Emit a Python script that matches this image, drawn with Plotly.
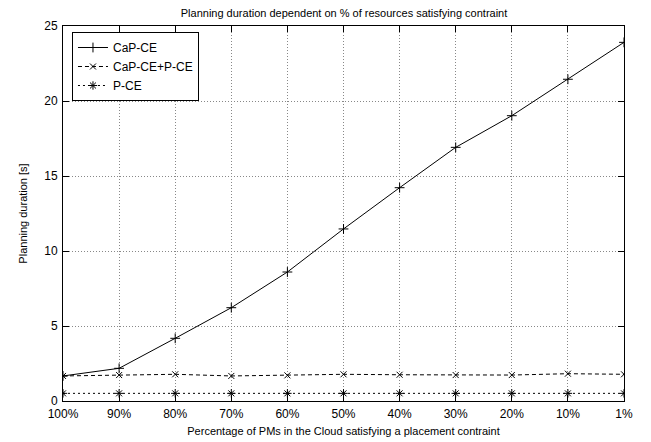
import plotly.graph_objects as go

categories = ["100%", "90%", "80%", "70%", "60%", "50%", "40%", "30%", "20%", "10%", "1%"]
cap_ce = [1.67, 2.18, 4.18, 6.22, 8.6, 11.47, 14.22, 16.91, 19.02, 21.45, 23.91]
cap_ce_p_ce = [1.67, 1.73, 1.78, 1.67, 1.71, 1.78, 1.75, 1.73, 1.73, 1.82, 1.78]
p_ce = [0.51, 0.51, 0.51, 0.51, 0.51, 0.51, 0.51, 0.51, 0.51, 0.51, 0.51]

FONT = "Liberation Sans, Arial, sans-serif"

fig = go.Figure()
fig.add_trace(go.Scatter(
    x=categories, y=cap_ce, name="CaP-CE", mode="lines+markers",
    line=dict(color="black", width=1),
    marker=dict(symbol="cross-thin", size=7, color="black", line=dict(color="black", width=1)),
))
fig.add_trace(go.Scatter(
    x=categories, y=cap_ce_p_ce, name="CaP-CE+P-CE", mode="lines+markers",
    line=dict(color="black", width=1, dash="4px,3px"),
    marker=dict(symbol="x-thin", size=6, color="black", line=dict(color="black", width=1)),
))
fig.add_trace(go.Scatter(
    x=categories, y=p_ce, name="P-CE", mode="lines+markers",
    line=dict(color="black", width=1, dash="2px,3px"),
    marker=dict(symbol="asterisk", size=7, color="black", line=dict(color="black", width=1)),
))

fig.update_layout(
    width=643, height=434,
    margin=dict(l=55, r=27, t=18, b=41, autoexpand=False),
    paper_bgcolor="white", plot_bgcolor="white",
    font=dict(family=FONT, size=12, color="black"),
    title=dict(text="Planning duration dependent on % of resources satisfying contraint",
               x=0.5226, xanchor="center", y=0.996, yanchor="top", pad=dict(t=0, b=0),
               font=dict(size=11, family=FONT)),
    showlegend=True,
    legend=dict(x=0.016, y=0.984, xanchor="left", yanchor="top",
                bordercolor="black", borderwidth=1, bgcolor="white",
                font=dict(size=12, family=FONT), tracegroupgap=0,
                itemwidth=30),
)
fig.update_xaxes(
    type="category", range=[0, 10], automargin=False,
    showline=True, linecolor="black", linewidth=1, mirror="ticks",
    ticks="inside", ticklen=6, tickcolor="black",
    showgrid=True, gridcolor="#888888", griddash="1px,2px", gridwidth=1,
    tickfont=dict(size=12, family=FONT), ticklabelstandoff=2,
    title=dict(text="Percentage of PMs in the Cloud satisfying a placement contraint",
               font=dict(size=11, family=FONT), standoff=6),
    zeroline=False,
)
fig.update_yaxes(
    range=[0, 25], dtick=5, automargin=False,
    showline=True, linecolor="black", linewidth=1, mirror="ticks",
    ticks="inside", ticklen=6, tickcolor="black",
    showgrid=True, gridcolor="#888888", griddash="1px,2px", gridwidth=1,
    tickfont=dict(size=12, family=FONT), ticklabelstandoff=2,
    title=dict(text="Planning duration [s]", font=dict(size=11, family=FONT), standoff=14),
    zeroline=False,
)

fig.write_html("out.html")
